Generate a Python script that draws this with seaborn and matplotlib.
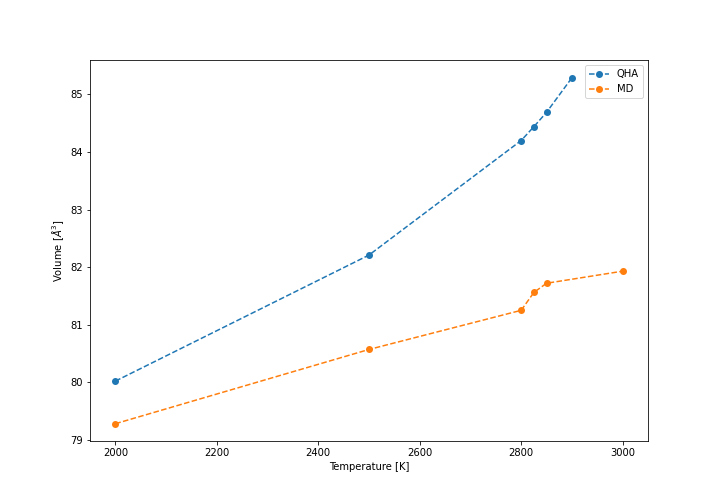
import matplotlib
matplotlib.use("Agg")
import matplotlib.pyplot as plt
import seaborn as sns

# Temperatures [K] and volumes [A^3]
qha_temp = [2000, 2500, 2800, 2825, 2850, 2900]
qha_vol = [80.02, 82.21, 84.20, 84.44, 84.69, 85.29]

md_temp = [2000, 2500, 2800, 2825, 2850, 3000]
md_vol = [79.28, 80.57, 81.25, 81.56, 81.72, 81.93]

fig, ax = plt.subplots(figsize=(10, 7), dpi=72)
fig.subplots_adjust(left=0.125, right=0.9, bottom=0.125, top=0.88)

sns.lineplot(x=qha_temp, y=qha_vol, ax=ax, marker="o", linestyle="--",
             color="#1f77b4", markersize=7, markeredgewidth=0, label="QHA")
sns.lineplot(x=md_temp, y=md_vol, ax=ax, marker="o", linestyle="--",
             color="#ff7f0e", markersize=7, markeredgewidth=0, label="MD")

ax.set_xlabel("Temperature [K]")
ax.set_ylabel(r"Volume [$\AA^3$]")
ax.legend(loc="upper right")

fig.savefig("out.png", dpi=72)
